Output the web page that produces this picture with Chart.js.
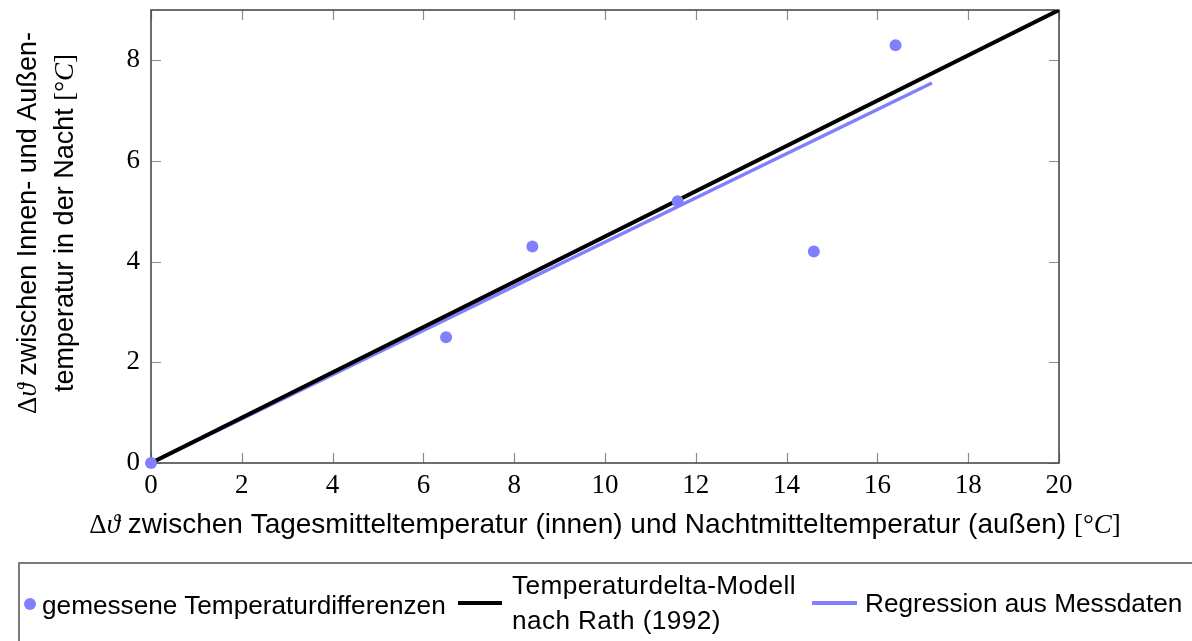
<!DOCTYPE html>
<html>
<head>
<meta charset="utf-8">
<title>Temperaturdifferenzen</title>
<script src="https://cdn.jsdelivr.net/npm/chart.js@4.4.1/dist/chart.umd.min.js"></script>
<style>
  html, body { margin: 0; padding: 0; background: #fff; overflow: hidden; }
  #wrap { position: relative; width: 1192px; height: 641px; }
  #legendBox {
    position: absolute; left: 18px; top: 562px; width: 1200px; height: 120px;
    border-top: 2px solid #7a7a7a; border-left: 2px solid #7a7a7a;
  }
  .lg { position: absolute; font-family: "Liberation Sans", sans-serif; font-size: 26.2px; color: #000; white-space: nowrap; }
  .dot { position: absolute; width: 12px; height: 12px; border-radius: 50%; background: #8080ff; }
  .bar { position: absolute; }
</style>
</head>
<body>
<div id="wrap">
  <canvas id="chart" width="1192" height="641"></canvas>
  <div id="legendBox"></div>
  <div class="dot" style="left:24px; top:598px;"></div>
  <div class="lg" style="left:42px; top:588px; line-height:34px;">gemessene Temperaturdifferenzen</div>
  <div class="bar" style="left:458px; top:601px; width:44px; height:4px; background:#000;"></div>
  <div class="lg" style="left:512px; top:568px; line-height:35px; letter-spacing:0.4px;">Temperaturdelta-Modell<br>nach Rath (1992)</div>
  <div class="bar" style="left:812px; top:601px; width:45px; height:3.5px; background:#8080ff;"></div>
  <div class="lg" style="left:865px; top:586px; line-height:34px;">Regression aus Messdaten</div>
</div>
<script>
  // Measured pairs: day mean (inside) vs night mean (outside), and night delta inside/outside
  var measuredX = [0, 6.5, 8.4, 11.6, 14.6, 16.4];
  var measuredY = [0, 2.5, 4.3, 5.2, 4.2, 8.3];

  // Model after Rath (1992): straight line through the origin
  var modelX = [0, 20];
  var modelY = [0, 9];

  // Regression fitted to the measured data
  var regressionX = [0, 17.2];
  var regressionY = [0, 7.55];

  var X_MIN = 0, X_MAX = 20, X_STEP = 2;
  var Y_MIN = 0, Y_MAX = 9, Y_STEP = 2;

  var BLUE = '#8080ff';
  var SANS = '"Liberation Sans", sans-serif';
  var SERIF = '"Liberation Serif", "DejaVu Serif", serif';

  function pairs(xs, ys) {
    return xs.map(function (x, i) { return { x: x, y: ys[i] }; });
  }

  // Axis labels mix sans text with serif math glyphs, so they are drawn as runs.
  var X_TITLE = [
    { t: 'Δ', f: '27px ' + SERIF },
    { t: 'ϑ', f: 'italic 27px ' + SERIF },
    { t: ' zwischen Tagesmitteltemperatur (innen) und Nachtmitteltemperatur (außen) ', f: '28px ' + SANS },
    { t: '[°', f: '27px ' + SERIF },
    { t: 'C', f: 'italic 27px ' + SERIF },
    { t: ']', f: '27px ' + SERIF }
  ];
  var Y_TITLE_1 = [
    { t: 'Δ', f: '27px ' + SERIF },
    { t: 'ϑ', f: 'italic 27px ' + SERIF },
    { t: ' zwischen Innen- und Außen-', f: '27px ' + SANS }
  ];
  var Y_TITLE_2 = [
    { t: 'temperatur in der Nacht ', f: '27px ' + SANS },
    { t: '[°', f: '27px ' + SERIF },
    { t: 'C', f: 'italic 27px ' + SERIF },
    { t: ']', f: '27px ' + SERIF }
  ];

  function runsWidth(ctx, runs) {
    var w = 0;
    runs.forEach(function (r) { ctx.font = r.f; w += ctx.measureText(r.t).width; });
    return w;
  }

  function drawRunsCentered(ctx, runs, cx, baseline) {
    var x = cx - runsWidth(ctx, runs) / 2;
    ctx.textAlign = 'left';
    ctx.textBaseline = 'alphabetic';
    runs.forEach(function (r) {
      ctx.font = r.f;
      ctx.fillText(r.t, x, baseline);
      x += ctx.measureText(r.t).width;
    });
  }

  var framePlugin = {
    id: 'frame',
    beforeDatasetsDraw: function (chart) {
      var ctx = chart.ctx;
      var a = chart.chartArea;
      var xs = chart.scales.x, ys = chart.scales.y;
      ctx.save();
      // inward tick marks on all four sides
      ctx.strokeStyle = '#8c8c8c';
      ctx.lineWidth = 1.2;
      ctx.beginPath();
      xs.ticks.forEach(function (t) {
        var px = Math.round(xs.getPixelForValue(t.value)) + 0.5;
        ctx.moveTo(px, a.bottom); ctx.lineTo(px, a.bottom - 10);
        ctx.moveTo(px, a.top); ctx.lineTo(px, a.top + 10);
      });
      ys.ticks.forEach(function (t) {
        var py = Math.round(ys.getPixelForValue(t.value)) + 0.5;
        ctx.moveTo(a.left, py); ctx.lineTo(a.left + 10, py);
        ctx.moveTo(a.right, py); ctx.lineTo(a.right - 10, py);
      });
      ctx.stroke();
      ctx.strokeStyle = '#4a4a4a';
      ctx.lineWidth = 1.6;
      ctx.strokeRect(a.left, a.top, a.right - a.left, a.bottom - a.top);
      ctx.restore();
    },
    afterDraw: function (chart) {
      var ctx = chart.ctx;
      var a = chart.chartArea;
      ctx.save();
      ctx.fillStyle = '#000';
      if ('wordSpacing' in ctx) ctx.wordSpacing = '7px';
      drawRunsCentered(ctx, X_TITLE, (a.left + a.right) / 2, 533);
      ctx.translate(0, 223);
      ctx.rotate(-Math.PI / 2);
      if ('wordSpacing' in ctx) ctx.wordSpacing = '3px';
      drawRunsCentered(ctx, Y_TITLE_1, 0, 36);
      drawRunsCentered(ctx, Y_TITLE_2, 0, 73);
      ctx.restore();
    }
  };

  new Chart(document.getElementById('chart').getContext('2d'), {
    type: 'scatter',
    data: {
      datasets: [
        {
          label: 'gemessene Temperaturdifferenzen',
          data: pairs(measuredX, measuredY),
          backgroundColor: BLUE,
          borderWidth: 0,
          pointRadius: 6,
          clip: false,
          order: 0
        },
        {
          type: 'line',
          label: 'Temperaturdelta-Modell nach Rath (1992)',
          data: pairs(modelX, modelY),
          borderColor: '#000',
          borderWidth: 4,
          pointRadius: 0,
          order: 1
        },
        {
          type: 'line',
          label: 'Regression aus Messdaten',
          data: pairs(regressionX, regressionY),
          borderColor: BLUE,
          borderWidth: 3.5,
          pointRadius: 0,
          order: 2
        }
      ]
    },
    options: {
      responsive: false,
      animation: false,
      layout: { padding: { top: 10, right: 133, bottom: 0, left: 0 } },
      plugins: { legend: { display: false }, tooltip: { enabled: false } },
      scales: {
        x: {
          type: 'linear', min: X_MIN, max: X_MAX,
          grid: { display: false, drawTicks: false },
          border: { display: false },
          ticks: { stepSize: X_STEP, includeBounds: false, padding: 7, color: '#000',
                   font: { family: SERIF, size: 27 } },
          afterFit: function (s) { s.height = 178; s.paddingLeft = 0; s.paddingRight = 0; }
        },
        y: {
          type: 'linear', min: Y_MIN, max: Y_MAX,
          grid: { display: false, drawTicks: false },
          border: { display: false },
          ticks: { stepSize: Y_STEP, includeBounds: false, padding: 11, color: '#000',
                   font: { family: SERIF, size: 27 } },
          afterFit: function (s) { s.width = 151; s.paddingTop = 0; s.paddingBottom = 0; }
        }
      }
    },
    plugins: [framePlugin]
  });
</script>
</body>
</html>
